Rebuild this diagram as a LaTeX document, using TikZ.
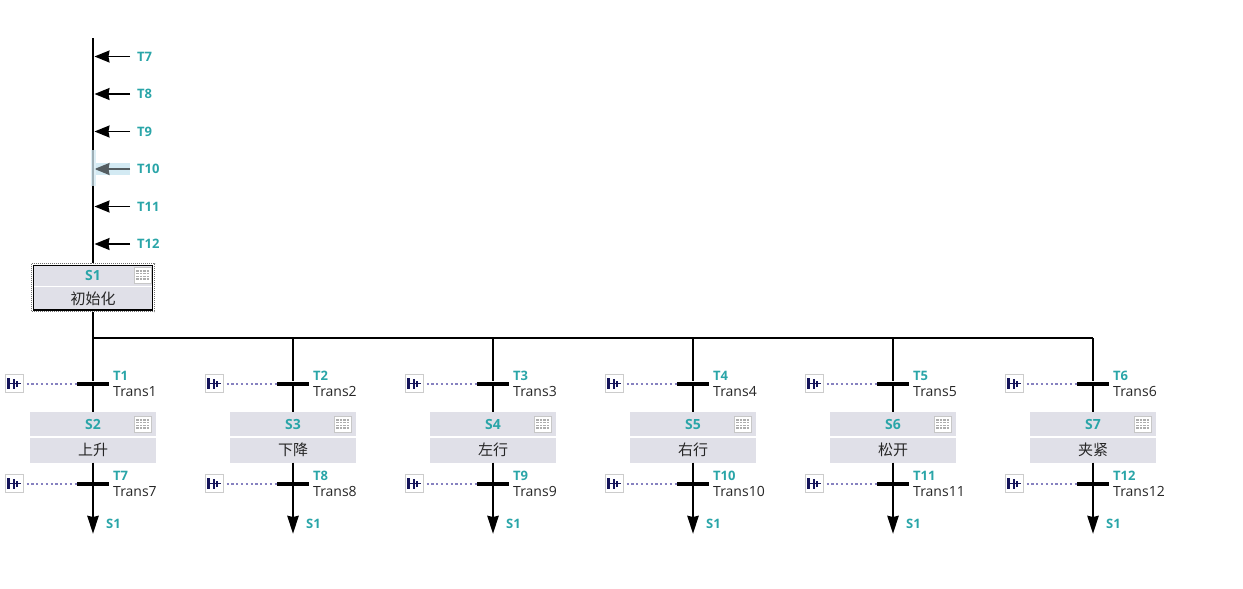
\documentclass[tikz,border=0pt]{standalone}
\usepackage{fontspec}
\setmainfont{Open Sans}
\newfontfamily\cjk{Noto Sans CJK SC}
\usetikzlibrary{arrows.meta}
\definecolor{tealname}{HTML}{2AA5A8}
\definecolor{stepgray}{HTML}{E0E0E8}
\definecolor{contactblue}{HTML}{8681C0}
\definecolor{contactdark}{HTML}{14145A}
\definecolor{hilite}{HTML}{D3EAF3}
\tikzset{
  flow/.style = {line width = 2.8pt},
  intip/.style = {line width = 1.5pt, -{Stealth[length = 15pt, width = 12pt, inset = 1pt]}},
  outtip/.style = {line width = 2.8pt, -{Stealth[length = 18pt, width = 11pt, inset = 1pt]}},
  tname/.style = {inner sep = 0pt, anchor = west, text = tealname, font = \fontsize{13}{15}\selectfont\bfseries},
  trname/.style = {inner sep = 0pt, anchor = west, text = black!85, font = \fontsize{14}{16}\selectfont},
  jump/.style = {inner xsep = 7pt, inner ysep = 0pt, anchor = west, text = tealname, font = \fontsize{13}{15}\selectfont\bfseries},
  stephead/.style = {fill = stepgray, minimum width = 126pt, minimum height = 24pt, inner sep = 0pt, text = tealname, font = \fontsize{14}{16}\selectfont\bfseries},
  stepbody/.style = {fill = stepgray, minimum width = 126pt, minimum height = 25pt, inner sep = 0pt, text = black!85, font = \fontsize{15}{17}\selectfont\cjk},
  transbar/.style = {fill = black, minimum width = 32pt, minimum height = 4pt, inner sep = 0pt},
  contact/.style = {draw = black!20, line width = 1pt, fill = white, minimum width = 18pt, minimum height = 18pt, inner sep = 0pt},
  wire/.style = {draw = contactblue, line width = 2pt, dash pattern = on 2.2pt off 2.6pt},
  grid/.style = {draw = black!22, line width = 1pt, fill = white, minimum width = 17pt, minimum height = 16pt, inner sep = 0pt}
}
% ladder contact symbol
\newcommand{\contactmark}[1]{
  \draw [contactdark, line width = 2.6pt] ([xshift = -5.5pt, yshift = -5.5pt]#1.center) -- ([xshift = -5.5pt, yshift = 5.5pt]#1.center);
  \draw [contactdark, line width = 2pt] ([xshift = -.5pt, yshift = -5pt]#1.center) -- ([xshift = -.5pt, yshift = 5pt]#1.center);
  \draw [contactdark, line width = 1.5pt] ([xshift = 3pt, yshift = -3pt]#1.center) -- ([xshift = 3pt, yshift = 3pt]#1.center);
  \draw [contactdark, line width = 1.8pt] ([xshift = -5.5pt]#1.center) -- ([xshift = 7pt]#1.center);
}
% table symbol of a step
\newcommand{\gridmark}[1]{
  \node [grid] (#1grid) at ([xshift = 49.5pt]#1.center) {};
  \foreach \r in {-4, -1.3, 1.3, 4}
    \draw [black!32, line width = 1.4pt, dash pattern = on 2.6pt off 1pt] ([xshift = -6.5pt, yshift = \r pt]#1grid.center) -- ([xshift = 6.5pt, yshift = \r pt]#1grid.center);
}
\begin{document}
\begin{tikzpicture}[x = 1pt, y = -1pt]
  \useasboundingbox (0, 0) rectangle (1243, 589);
  % initial step
  \coordinate (top) at (93, 38);
  \draw [draw = black!55, dash pattern = on 1pt off 1pt, line width = 1.8pt] (31.5, 263.5) rectangle (154.5, 311.5);
  \node [stephead, minimum width = 119pt, minimum height = 21pt] (S1) at (93, 275) {S1};
  \node [stepbody, minimum width = 119pt, minimum height = 23pt] (S1body) at (93, 298.5) {初始化};
  \draw [black, line width = 1.8pt] (33.5, 265.5) rectangle (152.5, 310);
  \gridmark{S1}
  \draw [flow] (top) -- (93, 263);
  \coordinate (branch) at (93, 338);
  \draw [flow] (93, 312) -- (branch);
  \draw [flow] (branch) -- (1093, 338);
  % highlighted jump
  \fill [hilite] (96, 163) rectangle (130, 175);
  % jumps into the initial step
  \foreach \y/\nm in {56.5/T7, 94/T8, 131.5/T9, 169/T10, 206.5/T11, 244/T12} {
    \coordinate (m\nm) at (94.5, \y);
    \node [jump] (l\nm) at (130, \y) {\nm};
    \draw [intip] (l\nm) -- (m\nm);
  }
  \fill [hilite, opacity = .75] (91, 150) rectangle (95.5, 186);
  \fill [hilite, opacity = .4] (95.5, 163) rectangle (130, 175);
  % the six branches
  \foreach \x/\st/\txt/\ta/\tb/\na/\nb in {
    93/S2/上升/T1/T7/Trans1/Trans7, 293/S3/下降/T2/T8/Trans2/Trans8,
    493/S4/左行/T3/T9/Trans3/Trans9, 693/S5/右行/T4/T10/Trans4/Trans10,
    893/S6/松开/T5/T11/Trans5/Trans11, 1093/S7/夹紧/T6/T12/Trans6/Trans12} {
    \coordinate (b\st) at (\x, 338);
    \node [transbar] (\ta) at (\x, 383.5) {};
    \node [transbar] (\tb) at (\x, 483.5) {};
    \node [stephead] (\st) at (\x, 424) {\st};
    \node [stepbody] (\st body) at (\x, 450) {\txt};
    \gridmark{\st}
    \coordinate (e\st) at (\x, 534);
    \draw [flow] (b\st) -- (\ta);
    \draw [flow] (\ta) -- (\st);
    \draw [outtip] (\st body) -- (e\st);
    \node [contact] (c\ta) at (\x - 79, 383.5) {};
    \node [contact] (c\tb) at (\x - 79, 483.5) {};
    \contactmark{c\ta}
    \contactmark{c\tb}
    \draw [wire] ([xshift = 3pt]c\ta.east) -- (\ta.west);
    \draw [wire] ([xshift = 3pt]c\tb.east) -- (\tb.west);
    \node [tname] at (\x + 20, 375.5) {\ta};
    \node [trname] at (\x + 20, 391.5) {\na};
    \node [tname] at (\x + 20, 475.5) {\tb};
    \node [trname] at (\x + 20, 491.5) {\nb};
    \node [tname] (j\st) at (\x + 13, 524) {S1};
  }
\end{tikzpicture}
\end{document}
